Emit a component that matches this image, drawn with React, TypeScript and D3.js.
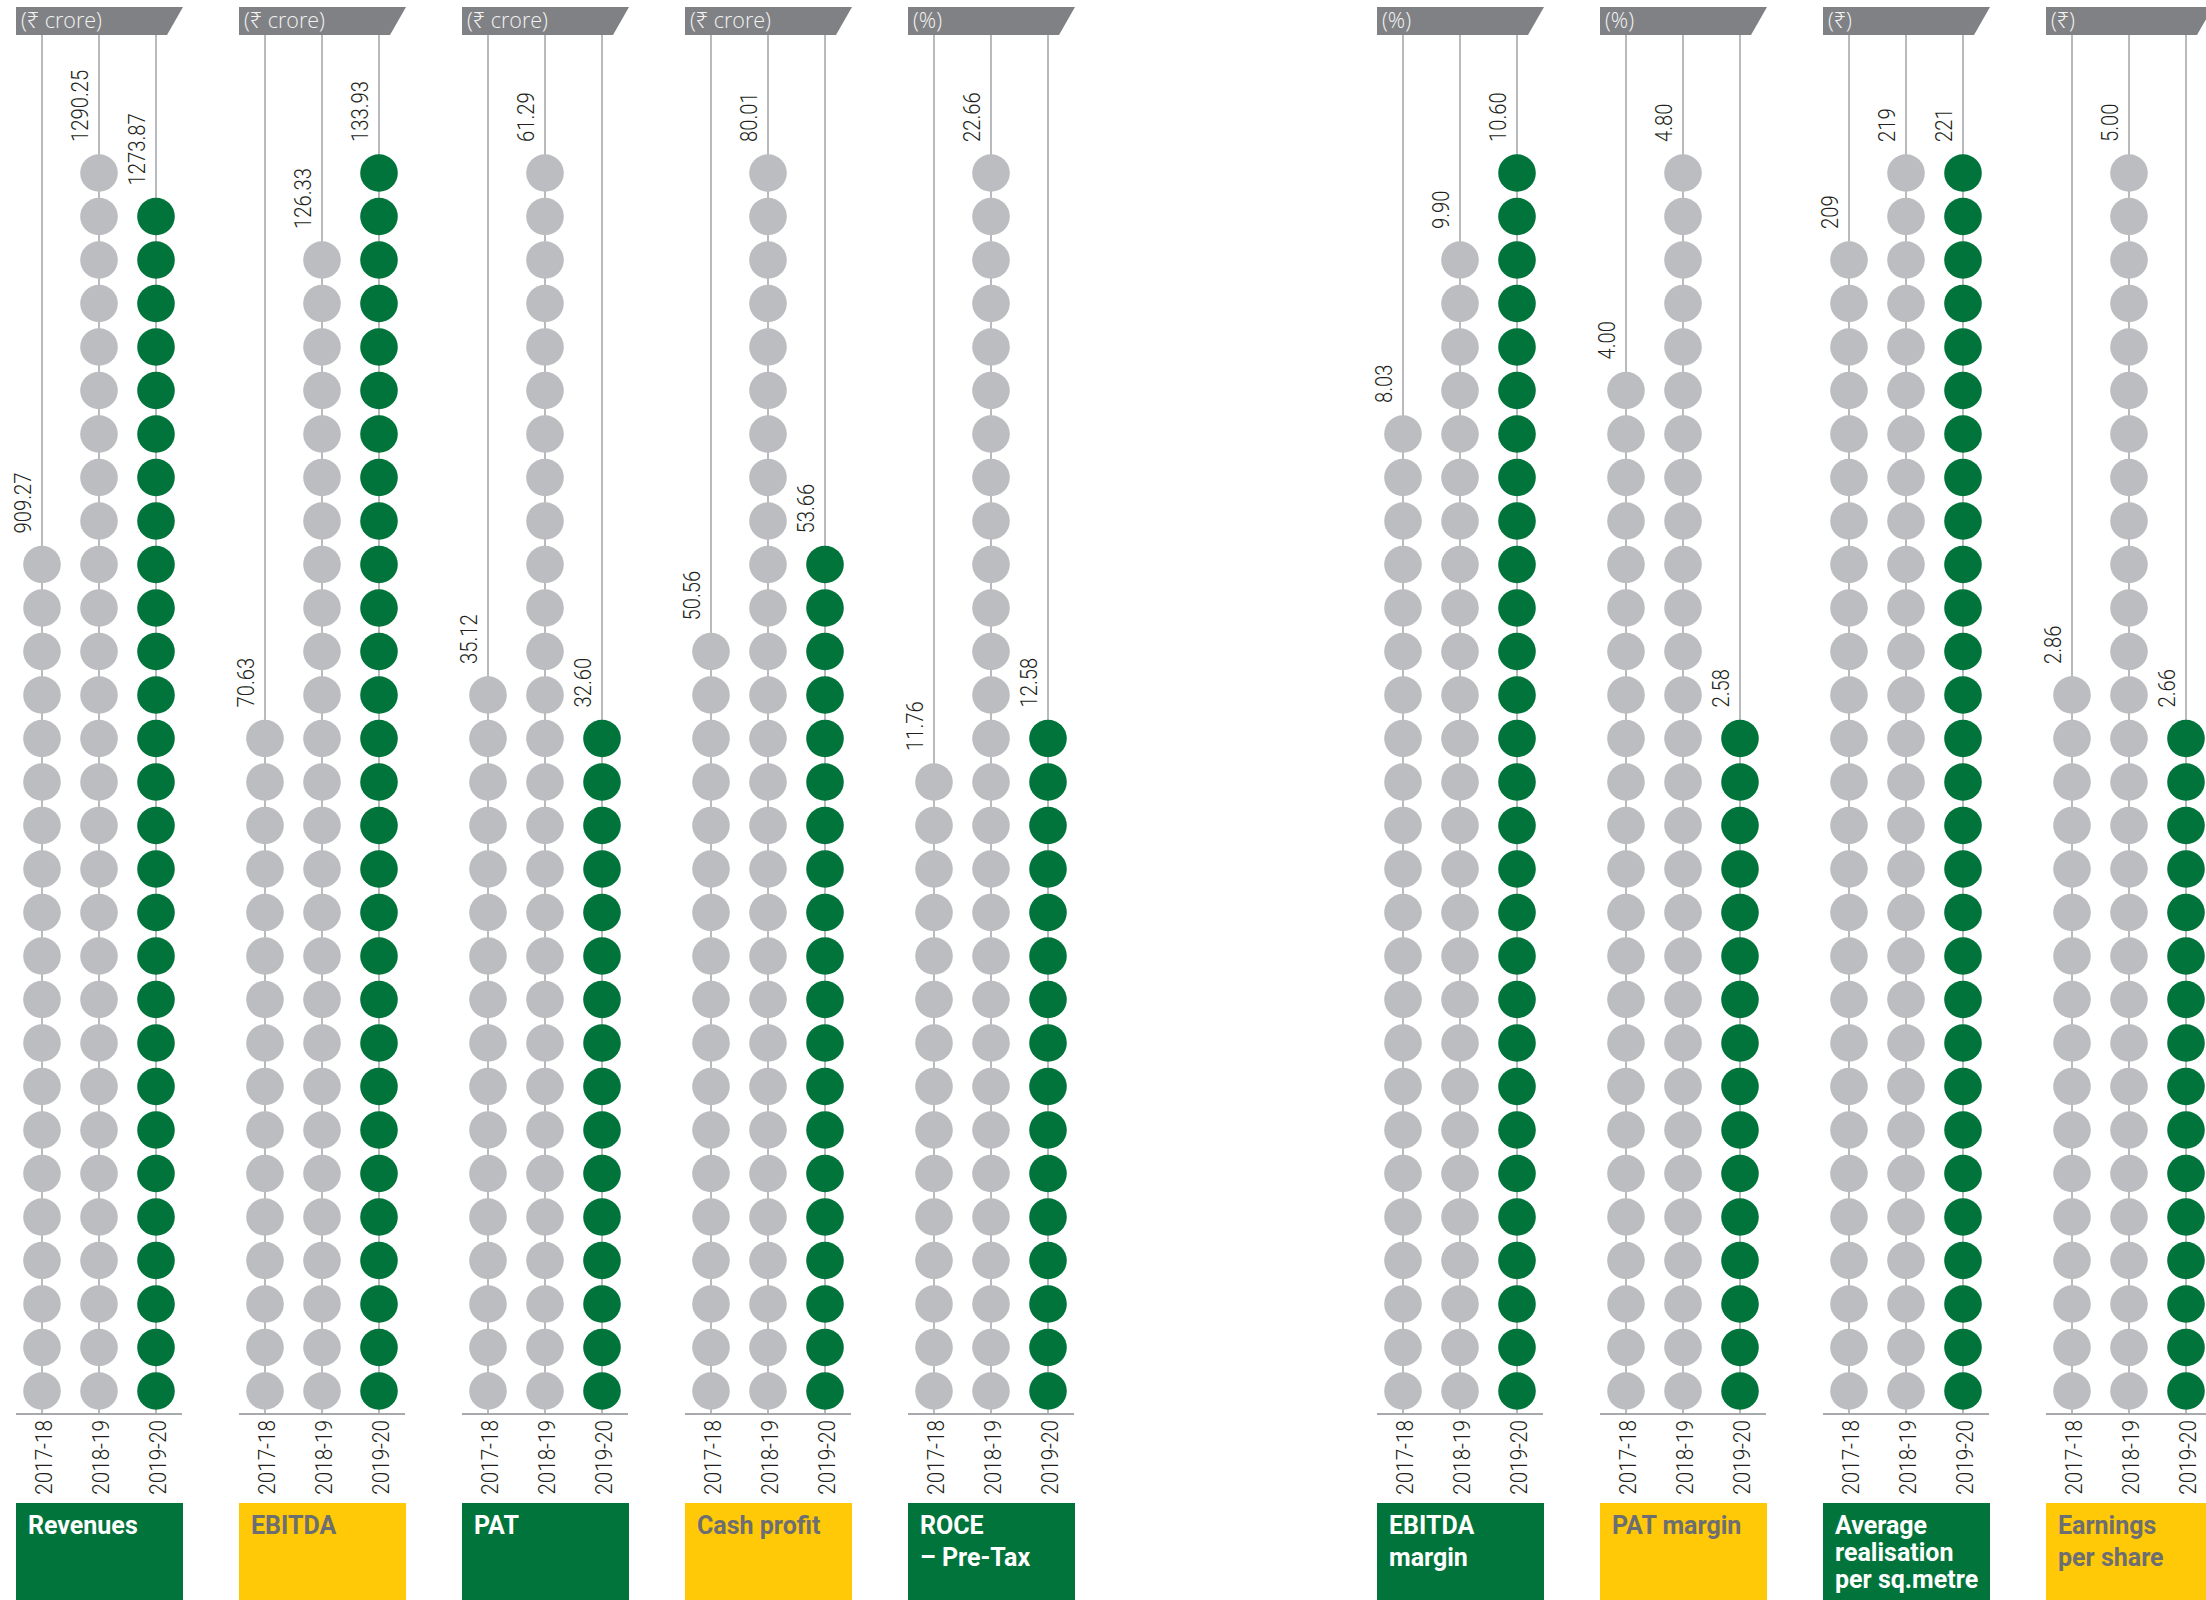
import React, { useEffect } from "react";
import * as d3 from "d3";

// ---------- data ----------
const years = ["2017-18", "2018-19", "2019-20"];
const metricTitles = [
  ["Revenues"],
  ["EBITDA"],
  ["PAT"],
  ["Cash profit"],
  ["ROCE", "– Pre-Tax"],
  ["EBITDA", "margin"],
  ["PAT margin"],
  ["Average", "realisation", "per sq.metre"],
  ["Earnings", "per share"],
];
const metricUnits = ["(₹ crore)", "(₹ crore)", "(₹ crore)", "(₹ crore)", "(%)", "(%)", "(%)", "(₹)", "(₹)"];
const revenues = [909.27, 1290.25, 1273.87];
const ebitda = [70.63, 126.33, 133.93];
const pat = [35.12, 61.29, 32.6];
const cashProfit = [50.56, 80.01, 53.66];
const rocePreTax = [11.76, 22.66, 12.58];
const ebitdaMargin = [8.03, 9.9, 10.6];
const patMargin = [4.0, 4.8, 2.58];
const avgRealisation = [209, 219, 221];
const eps = [2.86, 5.0, 2.66];
const metricValues = [revenues, ebitda, pat, cashProfit, rocePreTax, ebitdaMargin, patMargin, avgRealisation, eps];
const valueDecimals = [2, 2, 2, 2, 2, 2, 2, 0, 2];
// number of dots drawn per year
const revenuesDots = [20, 29, 28];
const ebitdaDots = [16, 27, 29];
const patDots = [17, 29, 16];
const cashProfitDots = [18, 29, 20];
const roceDots = [15, 29, 16];
const ebitdaMarginDots = [23, 27, 29];
const patMarginDots = [24, 29, 16];
const avgRealisationDots = [27, 29, 29];
const epsDots = [17, 29, 16];
const metricDots = [revenuesDots, ebitdaDots, patDots, cashProfitDots, roceDots, ebitdaMarginDots, patMarginDots, avgRealisationDots, epsDots];
const titleTheme = ["green", "yellow", "green", "yellow", "green", "green", "yellow", "green", "yellow"];
const panelGroup = [0, 0, 0, 0, 0, 1, 1, 1, 1];

// ---------- layout / style ----------
const W = 2206;
const H = 1600;
const GROUP_X = [16, 1377];
const PANEL_STEP = 223;
const PANEL_W = 167;
const HEADER_TOP = 7;
const HEADER_BOTTOM = 35;
const HEADER_SLANT = 16;
const BASELINE_Y = 1414;
const DOT_BOTTOM = 1391;
const DOT_TOP = 173;
const DOT_R = 18.8;
const TITLE_TOP = 1503;
const GREEN = "#00743b";
const YELLOW = "#ffc908";
const DOT_GREY = "#bcbdc0";
const LINE_GREY = "#a7a9ac";
const HEADER_GREY = "#808184";
const TITLE_GREY = "#6d6e71";
const TEXT = "#231f20";

export default function App() {
  useEffect(() => {
    document.body.style.margin = "0";
    document.body.style.overflow = "hidden";
  }, []);

  const maxDots = d3.max(metricDots.flat()) as number;
  const yDot = d3.scaleLinear().domain([0, maxDots - 1]).range([DOT_BOTTOM, DOT_TOP]);
  const xYear = d3.scalePoint<string>().domain(years).range([26, 140]);

  const groupCounter = [0, 0];
  const panels = metricTitles.map((t, i) => {
    const g = panelGroup[i];
    const x0 = GROUP_X[g] + PANEL_STEP * groupCounter[g];
    groupCounter[g] += 1;
    return { i, x0 };
  });

  return (
    <svg width={W} height={H} style={{ position: "absolute", left: 0, top: 0, display: "block", background: "#fff" }}>
      {panels.map(({ i, x0 }) => {
        const values = metricValues[i];
        const dots = metricDots[i];
        const fmt = d3.format(`.${valueDecimals[i]}f`);
        const theme = titleTheme[i];
        const lines = metricTitles[i];
        const lh = lines.length > 2 ? 27 : 32;
        const headerPath = d3.path();
        headerPath.moveTo(x0, HEADER_TOP);
        headerPath.lineTo(x0 + PANEL_W, HEADER_TOP);
        headerPath.lineTo(x0 + PANEL_W - HEADER_SLANT, HEADER_BOTTOM);
        headerPath.lineTo(x0, HEADER_BOTTOM);
        headerPath.closePath();
        return (
          <g key={i}>
            {/* header */}
            <path d={headerPath.toString()} fill={HEADER_GREY} />
            <text
              x={x0 + 5}
              y={28}
              fill="#f2f2f2"
              fontFamily="'Open Sans', 'Noto Sans', sans-serif"
              fontWeight={300}
              fontSize={21.5}
            >
              {metricUnits[i]}
            </text>
            {/* baseline */}
            <line x1={x0} x2={x0 + PANEL_W - 1} y1={BASELINE_Y} y2={BASELINE_Y} stroke={LINE_GREY} strokeWidth={2} />
            {years.map((yr, k) => {
              const cx = x0 + (xYear(yr) as number);
              const n = dots[k];
              const topY = yDot(n - 1);
              const color = k === years.length - 1 ? GREEN : DOT_GREY;
              return (
                <g key={yr}>
                  <line x1={cx} x2={cx} y1={HEADER_BOTTOM} y2={BASELINE_Y} stroke={LINE_GREY} strokeWidth={1.6} />
                  {d3.range(n).map((j) => (
                    <circle key={j} cx={cx} cy={yDot(j)} r={DOT_R} fill={color} />
                  ))}
                  <text
                    transform={`translate(${cx - 11},${topY - 31}) rotate(-90) scale(0.88,1)`}
                    fill={TEXT}
                    fontFamily="Roboto, sans-serif"
                    fontWeight={300}
                    fontSize={23}
                  >
                    {fmt(values[k])}
                  </text>
                  <text
                    transform={`translate(${cx + 10},${BASELINE_Y + 6}) rotate(-90) scale(0.9,1)`}
                    textAnchor="end"
                    fill={TEXT}
                    fontFamily="Roboto, sans-serif"
                    fontWeight={300}
                    fontSize={23}
                  >
                    {yr}
                  </text>
                </g>
              );
            })}
            {/* title box */}
            <rect x={x0} y={TITLE_TOP} width={PANEL_W} height={H - TITLE_TOP} fill={theme === "green" ? GREEN : YELLOW} />
            <text
              fill={theme === "green" ? "#ffffff" : TITLE_GREY}
              fontFamily="Roboto, sans-serif"
              fontWeight={700}
              fontSize={25}
            >
              {lines.map((ln, li) => (
                <tspan key={li} x={x0 + 12} y={1534 + li * lh}>
                  {ln}
                </tspan>
              ))}
            </text>
          </g>
        );
      })}
    </svg>
  );
}
